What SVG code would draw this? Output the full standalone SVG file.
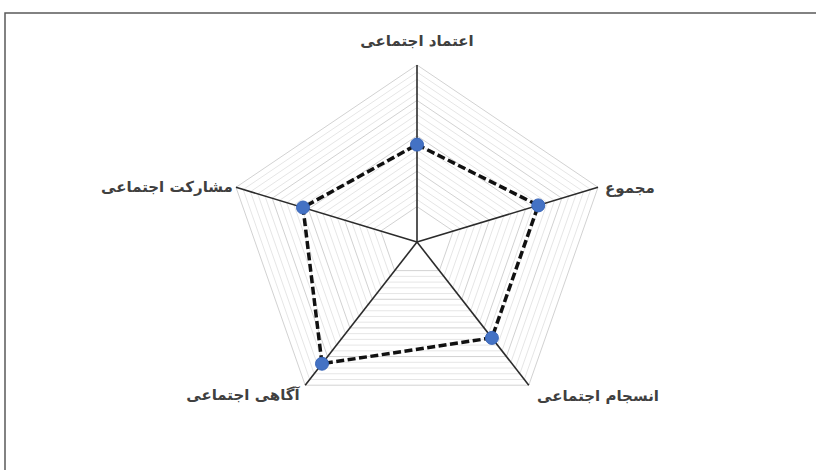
<svg xmlns="http://www.w3.org/2000/svg" xmlns:xlink="http://www.w3.org/1999/xlink" width="816" height="470" viewBox="0 0 816 470">
<style>
.minor{fill:none;stroke:#e6e6e6;stroke-width:1}
.major{fill:none;stroke:#d2d2d2;stroke-width:1}
.axis{stroke:#2b2b2b;stroke-width:1.6;fill:none}
.series{fill:none;stroke:#111;stroke-width:3.5;stroke-dasharray:8 3.5;stroke-linejoin:round}
.dot{fill:#4472c4;stroke:#3a66b8;stroke-width:1}
.lbl{font-family:"DejaVu Sans",sans-serif;font-weight:bold;font-size:15px;fill:#404040;text-anchor:middle}
</style>
<defs>
<polygon id="pent" points="0,-177 181,-54.7 111.8,143.2 -111.8,143.2 -181,-54.7" vector-effect="non-scaling-stroke"/>
</defs>
<rect x="0" y="0" width="816" height="470" fill="#ffffff"/>
<path d="M816,13 H5 V470" fill="none" stroke="#5a5a5a" stroke-width="1.5"/>
<g id="grid" transform="translate(417,242)">
<use href="#pent" class="minor" transform="scale(0.24)"/>
<use href="#pent" class="minor" transform="scale(0.28)"/>
<use href="#pent" class="minor" transform="scale(0.32)"/>
<use href="#pent" class="minor" transform="scale(0.36)"/>
<use href="#pent" class="minor" transform="scale(0.44)"/>
<use href="#pent" class="minor" transform="scale(0.48)"/>
<use href="#pent" class="minor" transform="scale(0.52)"/>
<use href="#pent" class="minor" transform="scale(0.56)"/>
<use href="#pent" class="minor" transform="scale(0.64)"/>
<use href="#pent" class="minor" transform="scale(0.68)"/>
<use href="#pent" class="minor" transform="scale(0.72)"/>
<use href="#pent" class="minor" transform="scale(0.76)"/>
<use href="#pent" class="minor" transform="scale(0.84)"/>
<use href="#pent" class="minor" transform="scale(0.88)"/>
<use href="#pent" class="minor" transform="scale(0.92)"/>
<use href="#pent" class="minor" transform="scale(0.96)"/>
<use href="#pent" class="major" transform="scale(0.2)"/>
<use href="#pent" class="major" transform="scale(0.4)"/>
<use href="#pent" class="major" transform="scale(0.6)"/>
<use href="#pent" class="major" transform="scale(0.8)"/>
<use href="#pent" class="major" transform="scale(1)"/>
</g>
<g id="axes" transform="translate(417,242)">
<line class="axis" x1="0" y1="0" x2="0" y2="-177"/>
<line class="axis" x1="0" y1="0" x2="181" y2="-54.7"/>
<line class="axis" x1="0" y1="0" x2="111.8" y2="143.2"/>
<line class="axis" x1="0" y1="0" x2="-111.8" y2="143.2"/>
<line class="axis" x1="0" y1="0" x2="-181" y2="-54.7"/>
</g>
<g id="connectors">
<polygon class="series" points="417,144.6 538.3,205.4 491.9,337.9 322,363.7 303,207.5"/>
</g>
<g id="node-trust"><circle class="dot" cx="417" cy="144.6" r="6.5"/><text class="lbl" x="417" y="46">اعتماد اجتماعی</text></g>
<g id="node-total"><circle class="dot" cx="538.3" cy="205.4" r="6.5"/><text class="lbl" x="630" y="193">مجموع</text></g>
<g id="node-cohesion"><circle class="dot" cx="491.9" cy="337.9" r="6.5"/><text class="lbl" x="598" y="401">انسجام اجتماعی</text></g>
<g id="node-awareness"><circle class="dot" cx="322" cy="363.7" r="6.5"/><text class="lbl" x="243" y="400">آگاهی اجتماعی</text></g>
<g id="node-participation"><circle class="dot" cx="303" cy="207.5" r="6.5"/><text class="lbl" x="167" y="192">مشارکت اجتماعی</text></g>
</svg>
